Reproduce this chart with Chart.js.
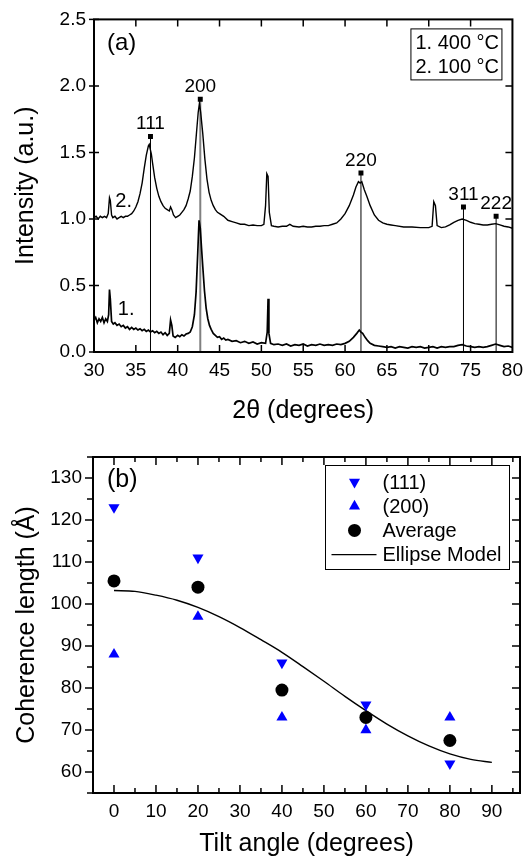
<!DOCTYPE html>
<html><head><meta charset="utf-8">
<script src="https://cdn.jsdelivr.net/npm/chart.js@4/dist/chart.umd.min.js"></script>
<style>
html,body{margin:0;padding:0;background:#fff;width:530px;height:862px;overflow:hidden;}
canvas{position:absolute;left:0;}
#c1{top:0;}
#c2{top:430px;}
</style></head><body>
<canvas id="c1" width="530" height="430"></canvas>
<canvas id="c2" width="530" height="432"></canvas>
<script>
const FONT = '"Liberation Sans", Arial, Helvetica, sans-serif';

// ===== Panel (a): XRD patterns =====
const x100 = [30.0,30.25,30.5,30.75,31.0,31.25,31.5,31.7,31.85,31.95,32.1,32.25,32.5,32.75,33.0,33.25,33.5,33.75,34.0,34.25,34.5,34.75,35.0,35.25,35.5,35.75,36.0,36.25,36.5,36.6,36.7,36.85,37.0,37.25,37.5,37.75,38.0,38.25,38.5,38.75,39.0,39.15,39.3,39.5,39.75,40.0,40.25,40.5,40.75,41.0,41.25,41.5,41.75,42.0,42.25,42.45,42.6,42.75,43.0,43.25,43.5,43.75,44.0,44.25,44.5,44.75,45.0,45.5,46.0,46.5,47.0,47.5,48.0,48.5,49.0,49.5,50.0,50.3,50.5,50.65,50.8,50.95,51.2,51.5,52.0,52.5,53.0,53.4,53.8,54.5,55.0,55.5,56.0,56.5,57.0,57.5,58.0,58.5,59.0,59.5,60.0,60.5,61.0,61.3,61.6,61.8,62.0,62.3,62.6,63.0,63.5,64.0,64.5,65.0,65.5,66.0,67.0,68.0,69.0,70.0,70.4,70.6,70.8,71.0,71.5,72.0,72.5,73.0,73.5,74.0,74.5,75.0,75.5,76.0,76.5,77.0,77.5,78.0,78.5,79.0,79.5,80.0];
const y100 = [1.01,1.02,1.00,1.02,1.01,1.02,1.01,1.04,1.16,1.14,1.03,1.01,1.02,1.00,1.01,1.02,1.01,1.02,1.02,1.03,1.04,1.06,1.09,1.13,1.19,1.27,1.38,1.48,1.55,1.56,1.53,1.49,1.42,1.31,1.23,1.17,1.13,1.10,1.08,1.07,1.06,1.09,1.07,1.03,1.01,1.02,1.03,1.05,1.07,1.10,1.15,1.21,1.32,1.46,1.65,1.80,1.87,1.80,1.64,1.45,1.30,1.20,1.14,1.10,1.07,1.05,1.04,1.02,0.99,0.98,0.97,0.96,0.96,0.95,0.955,0.95,0.95,0.96,1.10,1.34,1.32,1.05,0.95,0.945,0.94,0.945,0.945,0.96,0.945,0.94,0.945,0.94,0.94,0.945,0.945,0.95,0.95,0.96,0.97,1.00,1.04,1.10,1.18,1.24,1.28,1.27,1.28,1.22,1.17,1.10,1.03,0.99,0.97,0.96,0.955,0.95,0.94,0.94,0.935,0.935,0.945,1.13,1.10,0.95,0.935,0.94,0.955,0.975,0.99,1.00,0.99,0.975,0.965,0.96,0.955,0.955,0.96,0.965,0.955,0.945,0.94,0.93];
const x400 = [30.0,30.2,30.4,30.6,30.8,31.0,31.2,31.4,31.6,31.75,31.85,31.95,32.1,32.3,32.5,32.75,33.0,33.25,33.5,33.75,34.0,34.25,34.5,34.75,35.0,35.25,35.5,35.75,36.0,36.25,36.5,36.75,37.0,37.25,37.5,37.75,38.0,38.25,38.5,38.75,39.0,39.15,39.3,39.45,39.7,40.0,40.25,40.5,40.75,41.0,41.25,41.5,41.75,42.0,42.2,42.4,42.55,42.7,42.85,43.0,43.2,43.4,43.6,43.8,44.0,44.25,44.5,44.75,45.0,45.25,45.5,45.75,46.0,46.5,47.0,47.5,48.0,48.5,49.0,49.5,50.0,50.5,50.7,50.8,50.9,51.1,51.5,52.0,52.5,53.0,53.5,54.0,54.5,55.0,55.5,56.0,56.5,57.0,57.5,58.0,58.5,59.0,59.5,60.0,60.5,61.0,61.4,61.7,61.9,62.1,62.4,62.7,63.0,63.5,64.0,64.5,65.0,65.5,66.0,66.5,67.0,67.5,68.0,68.5,69.0,69.5,70.0,70.5,71.0,71.5,72.0,72.5,73.0,73.5,74.0,74.5,75.0,75.5,76.0,76.5,77.0,77.5,78.0,78.5,79.0,79.5,80.0];
const y400 = [0.24,0.26,0.22,0.25,0.23,0.26,0.22,0.25,0.23,0.28,0.47,0.40,0.23,0.21,0.22,0.20,0.21,0.19,0.20,0.18,0.19,0.17,0.185,0.17,0.18,0.165,0.175,0.16,0.17,0.155,0.165,0.15,0.16,0.145,0.155,0.14,0.15,0.13,0.145,0.125,0.14,0.24,0.20,0.12,0.11,0.125,0.115,0.13,0.12,0.135,0.14,0.15,0.19,0.28,0.45,0.75,0.99,0.93,0.78,0.64,0.46,0.33,0.25,0.20,0.17,0.14,0.125,0.11,0.115,0.095,0.105,0.09,0.095,0.08,0.085,0.07,0.08,0.065,0.075,0.06,0.07,0.065,0.15,0.40,0.14,0.065,0.055,0.06,0.05,0.06,0.045,0.055,0.05,0.06,0.045,0.055,0.05,0.06,0.05,0.055,0.05,0.06,0.055,0.065,0.08,0.11,0.14,0.165,0.15,0.14,0.11,0.085,0.065,0.05,0.045,0.04,0.035,0.04,0.03,0.04,0.035,0.03,0.04,0.035,0.04,0.03,0.035,0.04,0.03,0.04,0.035,0.04,0.04,0.05,0.055,0.045,0.04,0.035,0.04,0.035,0.04,0.05,0.06,0.05,0.04,0.045,0.035];
const peakLabels = ['111','200','220','311','222'];
const peakPos = [36.75, 42.7, 61.9, 74.15, 78.05];
const peakTop = [1.62, 1.90, 1.345, 1.09, 1.02];
const ticksAx = [30,35,40,45,50,55,60,65,70,75,80];
const ticksAy = [0.0,0.5,1.0,1.5,2.0,2.5];
const legendA = ['1. 400 °C', '2. 100 °C'];
const curveTags = ['1.', '2.'];

// ===== Panel (b): coherence length vs tilt =====
const tilt = [0, 20, 40, 60, 80];
const len111 = [123, 111, 86, 76, 62];
const len200 = [88, 97, 73, 70, 73];
const lenAvg = [105.5, 104, 79.5, 73, 67.5];
const modelTilt = [0,5,10,15,20,25,30,35,40,45,50,55,60,65,70,75,80,85,90];
const modelLen = [103.2,103.0,102.1,100.9,99.2,97.0,94.4,91.5,88.5,85.1,81.6,78.0,74.6,71.4,68.6,66.2,64.3,63.0,62.3];
const ticksBx = [0,10,20,30,40,50,60,70,80,90];
const ticksBy = [60,70,80,90,100,110,120,130];
const legendB = ['(111)', '(200)', 'Average', 'Ellipse Model'];

function pts(xs, ys){ return xs.map((v,i)=>({x:v, y:ys[i]})); }

function frameTicks(o){
  return {
    id:'frameTicks',
    afterDraw(chart){
      const {ctx, chartArea:a, scales:{x,y}} = chart;
      ctx.save();
      ctx.strokeStyle = '#000';
      ctx.lineWidth = 1.5;
      const xs = x.ticks.map(t=>t.value), ys = y.ticks.map(t=>t.value);
      const mids = arr => { const s = arr[1]-arr[0]; const r=[arr[0]-s/2]; for(let i=0;i<arr.length;i++) r.push(arr[i]+s/2); return r; };
      const drawX = (vals, len) => {
        vals.forEach(v=>{
          const px = x.getPixelForValue(v);
          if (px < a.left+1 || px > a.right-1) return;
          ctx.beginPath();
          ctx.moveTo(px, a.bottom); ctx.lineTo(px, a.bottom - len);
          ctx.moveTo(px, a.top); ctx.lineTo(px, a.top + len);
          ctx.stroke();
        });
      };
      const drawY = (vals, len, lout, lin) => {
        vals.forEach(v=>{
          const py = y.getPixelForValue(v);
          if (py < a.top-0.5 || py > a.bottom+0.5) return;
          ctx.beginPath();
          ctx.moveTo(a.left - lout, py); ctx.lineTo(a.left + lin, py);
          if (py > a.top+1 && py < a.bottom-1) { ctx.moveTo(a.right, py); ctx.lineTo(a.right - len, py); }
          ctx.stroke();
        });
      };
      drawX(xs, o.major);
      drawY(ys, o.major, o.leftOut, o.leftIn);
      if (o.minor){
        drawX(mids(xs), o.minor);
        drawY(mids(ys), o.minor, o.minorOut, 0);
      }
      ctx.lineWidth = 2;
      ctx.strokeRect(a.left, a.top, a.right - a.left, a.bottom - a.top);
      ctx.restore();
    }
  };
}

const annotA = {
  id:'annotA',
  afterDraw(chart){
    const {ctx, chartArea:a, scales:{x,y}} = chart;
    ctx.save();
    ctx.fillStyle = '#000';
    ctx.textBaseline = 'alphabetic';
    ctx.font = '19px ' + FONT;
    ctx.textAlign = 'center';
    peakLabels.forEach((t,i)=>{
      ctx.fillText(t, x.getPixelForValue(peakPos[i]), y.getPixelForValue(peakTop[i]) - 7);
    });
    ctx.textAlign = 'left';
    ctx.font = '20px ' + FONT;
    ctx.fillText(curveTags[0], x.getPixelForValue(32.85), y.getPixelForValue(0.275));
    ctx.fillText(curveTags[1], x.getPixelForValue(32.55), y.getPixelForValue(1.09));
    ctx.font = '24px ' + FONT;
    ctx.fillText('(a)', a.left + 13, a.top + 31);
    ctx.font = '20px ' + FONT;
    const bx = a.right - 101.5, by = a.top + 9.5;
    ctx.lineWidth = 1; ctx.strokeStyle = '#000';
    ctx.strokeRect(bx, by, 91, 51);
    ctx.fillText(legendA[0], bx + 4.5, by + 20.5);
    ctx.fillText(legendA[1], bx + 4.5, by + 44.5);
    ctx.restore();
  }
};

const annotB = {
  id:'annotB',
  afterDraw(chart){
    const {ctx, chartArea:a} = chart;
    ctx.save();
    ctx.fillStyle = '#000';
    ctx.textBaseline = 'alphabetic';
    ctx.textAlign = 'left';
    ctx.font = '25px ' + FONT;
    ctx.fillText('(b)', a.left + 14, a.top + 30);
    const bx = a.right - 194.5, by = a.top + 8.5;
    ctx.lineWidth = 1; ctx.strokeStyle = '#000';
    ctx.strokeRect(bx, by, 184, 104);
    ctx.font = '20px ' + FONT;
    const sx = bx + 29, tx = bx + 57;
    const ds = chart.data.datasets;
    const idx = [1, 2, 0, 3];
    idx.forEach((di, r) => {
      const base = by + 23 + r * 24.2;
      const d = ds[di];
      ctx.fillStyle = '#000';
      ctx.fillText(legendB[r], tx, base);
      const cy = base - 6.5;
      if (d.showLine) {
        ctx.beginPath(); ctx.strokeStyle = d.borderColor; ctx.lineWidth = d.borderWidth;
        ctx.moveTo(bx + 6, cy); ctx.lineTo(bx + 51, cy); ctx.stroke();
      } else {
        ctx.fillStyle = d.pointBackgroundColor;
        ctx.strokeStyle = d.pointBackgroundColor;
        Chart.helpers.drawPoint(ctx, {pointStyle: d.pointStyle, rotation: d.pointRotation || 0, radius: d.pointRadius, borderWidth: 0}, sx, cy);
      }
    });
    ctx.restore();
  }
};

const tickFont = {family: FONT, size: 19};
const titleFont = {family: FONT, size: 25};

// ----- Chart (a) -----
const dsA = [
  {data: pts(x100, y100), showLine:true, borderColor:'#000', borderWidth:1.4, pointRadius:0},
  {data: pts(x400, y400), showLine:true, borderColor:'#000', borderWidth:1.7, pointRadius:0}
];
peakPos.forEach((p,i)=>{
  dsA.push({data:[{x:p,y:0},{x:p,y:peakTop[i]}], showLine:true,
    borderColor: i===1 ? '#808080' : '#000', borderWidth: i===1 ? 2 : 1,
    pointRadius:[0,3.5], pointStyle:'rect', pointBackgroundColor:'#000', pointBorderWidth:0});
});

new Chart(document.getElementById('c1'), {
  type:'scatter',
  data:{datasets: dsA},
  options:{
    responsive:false, animation:false, devicePixelRatio:1,
    layout:{padding:{top:15, right:10, left:0, bottom:0}},
    plugins:{legend:{display:false}, tooltip:{enabled:false}},
    scales:{
      x:{type:'linear', min:30, max:80,
        afterFit(s){ s.height = 78; },
        afterBuildTicks(s){ s.ticks = ticksAx.map(v=>({value:v})); },
        ticks:{font:tickFont, color:'#000', padding:7, maxRotation:0},
        grid:{display:false, drawTicks:false}, border:{display:false},
        title:{display:true, text:'2θ (degrees)', font:titleFont, color:'#000', padding:{top:0, bottom:4}}},
      y:{type:'linear', min:0, max:2.5,
        afterFit(s){ s.width = 94; },
        afterBuildTicks(s){ s.ticks = ticksAy.map(v=>({value:v})); },
        ticks:{font:tickFont, color:'#000', padding:8, callback:v=>Number(v).toFixed(1)},
        grid:{display:false, drawTicks:false}, border:{display:false},
        title:{display:true, text:'Intensity (a.u.)', font:titleFont, color:'#000', padding:{top:11, bottom:0}}}
    }
  },
  plugins:[frameTicks({major:7, leftOut:5, leftIn:5}), annotA]
});

// ----- Chart (b) -----
new Chart(document.getElementById('c2'), {
  type:'scatter',
  data:{datasets:[
    {label:legendB[2], data: pts(tilt, lenAvg), pointStyle:'circle', pointRadius:6.5, pointBackgroundColor:'#000', pointBorderWidth:0, backgroundColor:'#000'},
    {label:legendB[0], data: pts(tilt, len111), pointStyle:'triangle', pointRotation:180, pointRadius:6.4, pointBackgroundColor:'#0000ff', pointBorderWidth:0, backgroundColor:'#0000ff'},
    {label:legendB[1], data: pts(tilt, len200), pointStyle:'triangle', pointRotation:0, pointRadius:6.4, pointBackgroundColor:'#0000ff', pointBorderWidth:0, backgroundColor:'#0000ff'},
    {label:legendB[3], data: pts(modelTilt, modelLen), showLine:true, borderColor:'#000', borderWidth:1.4, pointRadius:0, cubicInterpolationMode:'monotone'}
  ]},
  options:{
    responsive:false, animation:false, devicePixelRatio:1,
    layout:{padding:{top:27, right:10, left:0, bottom:0}},
    plugins:{legend:{display:false}, tooltip:{enabled:false}},
    scales:{
      x:{type:'linear', min:-5, max:96.7,
        afterFit(s){ s.height = 69; },
        afterBuildTicks(s){ s.ticks = ticksBx.map(v=>({value:v})); },
        ticks:{font:tickFont, color:'#000', padding:7, maxRotation:0},
        grid:{display:false, drawTicks:false}, border:{display:false},
        title:{display:true, text:'Tilt angle (degrees)', font:titleFont, color:'#000', padding:{top:0, bottom:3}}},
      y:{type:'linear', min:55, max:135,
        afterFit(s){ s.width = 93; },
        afterBuildTicks(s){ s.ticks = ticksBy.map(v=>({value:v})); },
        ticks:{font:tickFont, color:'#000', padding:11},
        grid:{display:false, drawTicks:false}, border:{display:false},
        title:{display:true, text:'Coherence length (Å)', font:titleFont, color:'#000', padding:{top:12, bottom:0}}}
    }
  },
  plugins:[frameTicks({major:8, minor:5, leftOut:8, leftIn:0, minorOut:6}), annotB]
});
</script>
</body></html>
